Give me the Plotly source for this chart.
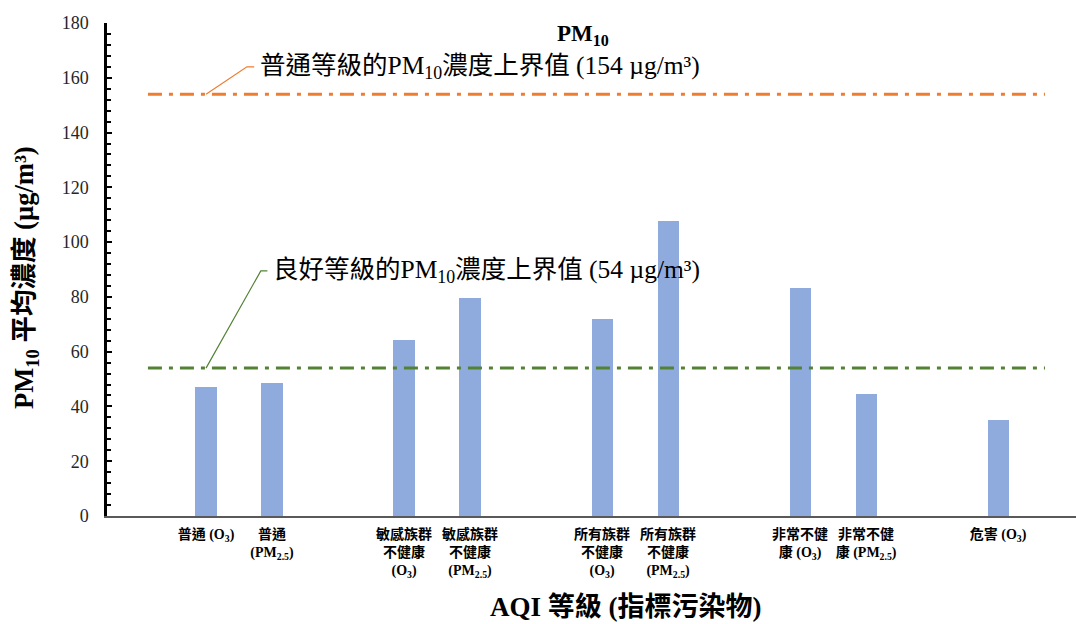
import plotly.graph_objects as go

# AQI categories (grouped by level, O3 / PM2.5 as the indicator pollutant)
group_sizes = [2, 2, 2, 2, 1]
tick_labels = [
    "普通 (O<sub>3</sub>)",
    "普通<br>(PM<sub>2.5</sub>)",
    "敏感族群<br>不健康<br>(O<sub>3</sub>)",
    "敏感族群<br>不健康<br>(PM<sub>2.5</sub>)",
    "所有族群<br>不健康<br>(O<sub>3</sub>)",
    "所有族群<br>不健康<br>(PM<sub>2.5</sub>)",
    "非常不健<br>康 (O<sub>3</sub>)",
    "非常不健<br>康 (PM<sub>2.5</sub>)",
    "危害 (O<sub>3</sub>)",
]
pm10_mean = [47, 48.7, 64.4, 79.6, 72, 107.7, 83.3, 44.4, 35.1]

good_limit = 54
moderate_limit = 154

# each group takes its members' slots plus one empty slot
positions = []
slot = 0
for size in group_sizes:
    for k in range(size):
        positions.append(slot + k)
    slot += size + 1

SERIF = "Liberation Serif, Noto Sans CJK TC, serif"

fig = go.Figure()
fig.add_trace(go.Bar(
    x=positions, y=pm10_mean, width=0.32,
    marker=dict(color="#8FAADC", line=dict(width=0)),
    showlegend=False, hoverinfo="y",
))

x_start, x_end = -0.88, 12.71
for level, color in [(moderate_limit, "#ED7D31"), (good_limit, "#548235")]:
    fig.add_trace(go.Scatter(
        x=[x_start, x_end], y=[level, level], mode="lines",
        line=dict(color=color, width=3, dash="14px,7px,4px,7px"),
        showlegend=False, hoverinfo="skip",
    ))

# leader lines from the threshold lines to their labels
fig.add_trace(go.Scatter(
    x=[0, 0.62, 0.73], y=[moderate_limit, 164, 164], mode="lines",
    line=dict(color="#ED7D31", width=1.2), showlegend=False, hoverinfo="skip",
))
fig.add_trace(go.Scatter(
    x=[0, 0.83, 0.93], y=[good_limit, 89.5, 89.5], mode="lines",
    line=dict(color="#548235", width=1.2), showlegend=False, hoverinfo="skip",
))

fig.add_annotation(
    x=0.78, y=164, xref="x", yref="y", xanchor="left", yanchor="middle",
    text=f"普通等級的PM<sub>10</sub>濃度上界值 ({moderate_limit} µg/m³)",
    showarrow=False, font=dict(family=SERIF, size=25.5, color="#000000"),
)
fig.add_annotation(
    x=0.98, y=89.5, xref="x", yref="y", xanchor="left", yanchor="middle",
    text=f"良好等級的PM<sub>10</sub>濃度上界值 ({good_limit} µg/m³)",
    showarrow=False, font=dict(family=SERIF, size=25.5, color="#000000"),
)

# chart title and axis titles
fig.add_annotation(
    x=0.491, y=1, xref="paper", yref="paper", xanchor="center", yshift=4,
    text="<b>PM<sub>10</sub></b>", showarrow=False,
    font=dict(family=SERIF, size=23, color="#000000"),
)
fig.add_annotation(
    x=-0.0836, y=0.485, xref="paper", yref="paper", textangle=-90,
    xanchor="center", yanchor="middle",
    text="<b>PM<sub>10</sub> 平均濃度 (µg/m³)</b>", showarrow=False,
    font=dict(family=SERIF, size=26.5, color="#000000"),
)
fig.add_annotation(
    x=0.5356, y=-0.1846, xref="paper", yref="paper",
    xanchor="center", yanchor="middle",
    text="<b>AQI 等級 (指標污染物)</b>", showarrow=False,
    font=dict(family=SERIF, size=27, color="#000000"),
)

fig.update_layout(
    width=1076, height=624, autosize=False,
    margin=dict(l=107, r=0, t=23, b=108, pad=0),
    plot_bgcolor="white", paper_bgcolor="white",
    bargap=0,
)
fig.update_xaxes(
    range=[-1.5, 13.18], tickvals=positions, ticktext=tick_labels,
    tickfont=dict(family=SERIF, size=14, color="#000000", weight="bold"),
    ticks="", showline=True, linecolor="#595959", linewidth=2,
    showgrid=False, zeroline=False, ticklabelstandoff=4,
)
fig.update_yaxes(
    range=[0, 180], tick0=0, dtick=20,
    ticks="inside", ticklen=5, tickwidth=2, tickcolor="#000000",
    minor=dict(dtick=4, ticks="inside", ticklen=4, tickwidth=2, tickcolor="#000000"),
    tickfont=dict(family=SERIF, size=18, color="#262626"),
    showline=True, linecolor="#000000", linewidth=2.5,
    showgrid=False, zeroline=False, ticklabelstandoff=12,
)

fig.write_html("out.html")
